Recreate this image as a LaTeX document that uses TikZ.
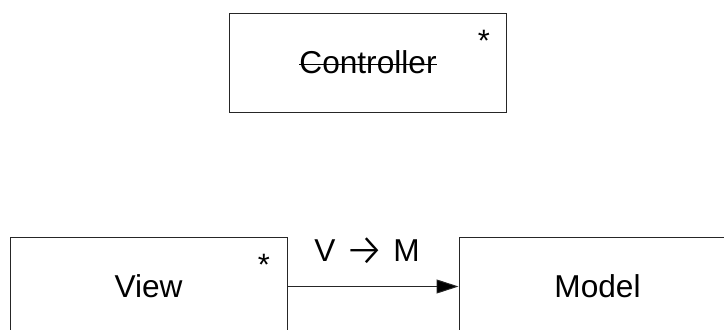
\documentclass[tikz,border=0pt]{standalone}
\usepackage{fontspec}
\setmainfont{Liberation Sans}
\newfontfamily\arrowfont{Fira Sans Light}
\usetikzlibrary{arrows.meta, positioning}
\newcommand{\strikeout}[1]{\setbox0\hbox{#1}\rlap{\rule[0.5ex]{\wd0}{0.9pt}}\box0}
\newcommand{\vmarrow}{\raisebox{-2.8pt}{\fontsize{32}{32}\arrowfont →}}

\begin{document}
\begin{tikzpicture}[
    comp/.style={rectangle, draw=black!85, line width=0.7pt, minimum width=6.925cm,
                 minimum height=2.475cm, inner sep=0pt, font=\fontsize{22.5}{26}\selectfont},
    mult/.style={font=\fontsize{22}{26}\selectfont, inner sep=0pt, anchor=north},
    link/.style={draw=black!85, line width=0.7pt, -{Triangle[length=0.55cm, width=0.35cm, fill=black]}},
    lbl/.style={font=\fontsize{22.5}{26}\selectfont, inner sep=0pt, anchor=base},
  ]
    \clip (0, 0) rectangle (18.1, 8.225);

    % Controller
    \node[comp] (ctrl) at (9.2, 6.6625) {\strikeout{Controller}};
    \node[mult] (ctrlMult) at (12.1, 7.475) {*};

    % View y Model
    \node[comp] (view) at (3.7125, 1.0625) {View};
    \node[mult] (viewMult) at (6.6, 1.875) {*};
    \node[comp] (model) at (14.9375, 1.0625) {Model};

    \draw[link] (view) -- node[lbl, pos=0.465, yshift=0.62cm] (vmLabel) {V \vmarrow{} M} (model);
\end{tikzpicture}
\end{document}
